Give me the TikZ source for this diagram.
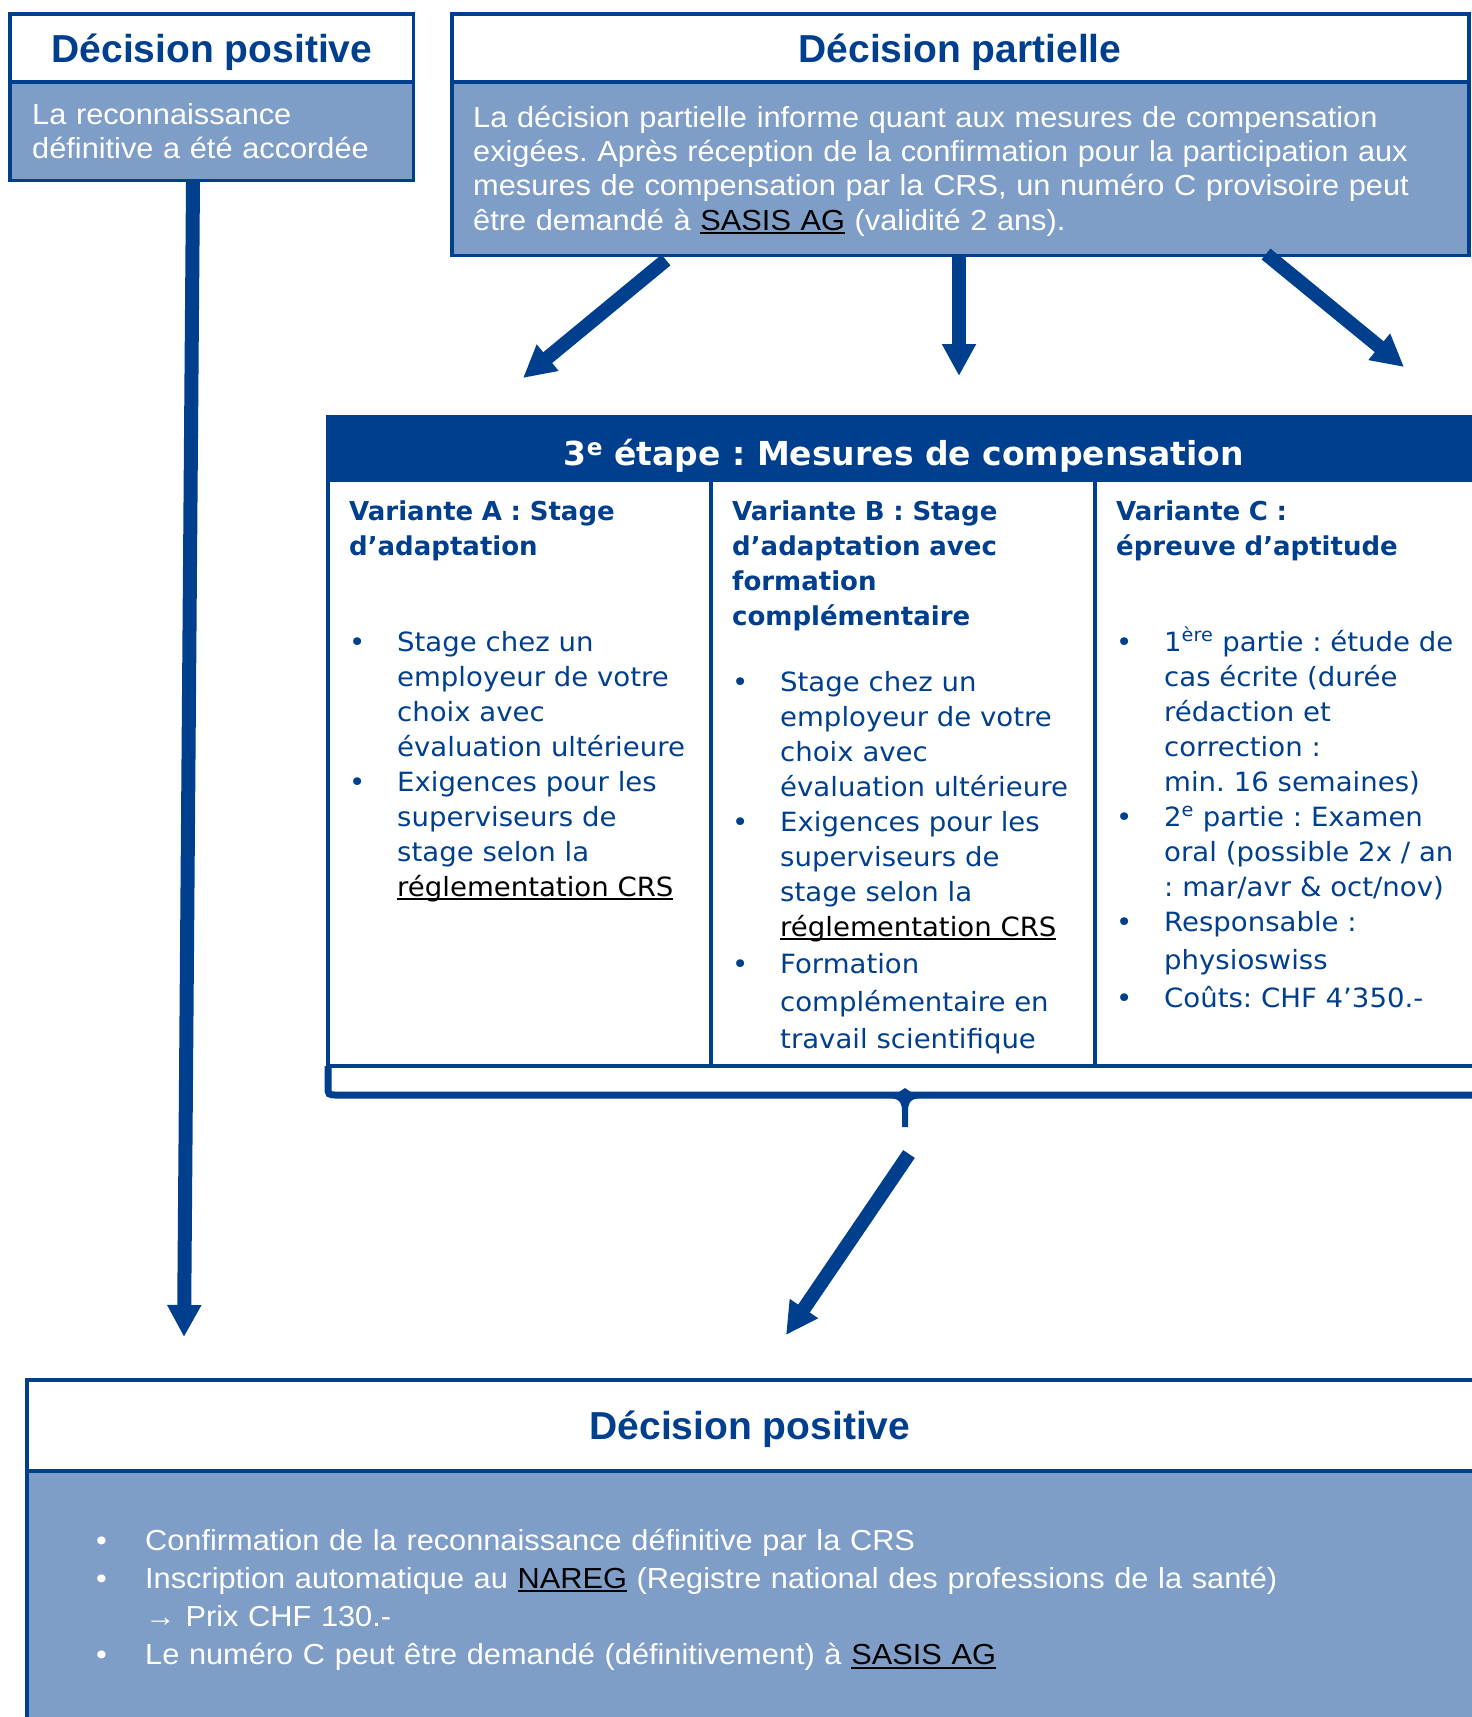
\documentclass[tikz,border=0pt]{standalone}
\usepackage{fontspec}
\setmainfont{Liberation Sans}
\newfontfamily\bodysans[FakeStretch=1.06]{Liberation Sans}
\newfontfamily\widesans{DejaVu Sans}
\newfontfamily\widelist[FakeStretch=1.04]{DejaVu Sans}
\usetikzlibrary{arrows.meta}
\frenchspacing

\definecolor{crsblue}{RGB}{0,63,142}
\definecolor{crslight}{RGB}{127,158,199}

% underlined link, in black
\newcommand\lnk[1]{{\color{black}\setbox0\hbox{#1}\rlap{\rule[-4pt]{\wd0}{2pt}}\box0}}
\newcommand\bul[1][48pt]{\makebox[#1][l]{•}}
\newcommand\ind[1][48pt]{\hspace*{#1}}

\begin{document}
\begin{tikzpicture}[x=1pt, y=-1pt,
    frame/.style={draw=crsblue, line width=3.5pt, inner sep=0pt,
                  outer sep=0pt, anchor=north west},
    hdr/.style={font=\fontsize{39}{44}\selectfont\bfseries, text=crsblue,
                inner sep=0pt, anchor=base},
    txt/.style={font=\bodysans\fontsize{29}{34.4}\selectfont, text=white,
                text width=1300pt, align=left, inner sep=0pt, anchor=base west},
    vtitle/.style={font=\widesans\fontsize{26}{35}\selectfont\bfseries,
                   text=crsblue, text width=360pt, align=left,
                   inner sep=0pt, anchor=base west},
    vlist/.style={font=\widelist\fontsize{26.5}{35}\selectfont,
                  text=crsblue, text width=360pt, align=left,
                  inner sep=0pt, anchor=base west},
    bigarrow/.style={draw=crsblue, line width=14pt,
                     -{Triangle[length=32pt,width=32pt]}}]
  \useasboundingbox (0,0) rectangle (1472,1717);
  \clip (0,0) rectangle (1472,1717);

  % top left: positive decision
  \node[frame, fill=white, minimum width=403.5pt, minimum height=68pt]
    (posHead) at (10,14) {};
  \node[frame, fill=crslight, minimum width=403.5pt, minimum height=98.5pt]
    (posBody) at (10,82) {};
  \node[hdr] (posTitle) at (212,62) {Décision positive};
  \node[txt] (posText) at (32,124) {La reconnaissance\\définitive a été accordée};

  % top right: partial decision
  \node[frame, fill=white, minimum width=1017pt, minimum height=68pt]
    (partHead) at (452,14) {};
  \node[frame, fill=crslight, minimum width=1017pt, minimum height=173.5pt]
    (partBody) at (452,82) {};
  \node[hdr] (partTitle) at (960,62) {Décision partielle};
  \node[txt] (partText) at (473,127) {La décision partielle informe quant aux mesures de compensation\\
    exigées. Après réception de la confirmation pour la participation aux\\
    mesures de compensation par la CRS, un numéro C provisoire peut\\
    être demandé à \lnk{SASIS AG} (validité 2 ans).};

  % step 3
  \node[frame, fill=crsblue, minimum width=1152pt, minimum height=63pt]
    (stepHead) at (328,417) {};
  \foreach \n/\x/\w in {colA/328/383, colB/711/384, colC/1095/385}
    \node[frame, fill=white, minimum width=\w pt, minimum height=586pt]
      (\n) at (\x,480) {};
  \node[font=\widesans\fontsize{33}{40}\selectfont\bfseries, text=white,
        inner sep=0pt, anchor=base] (stepTitle) at (904,465)
    {3\textsuperscript{e} étape : Mesures de compensation};

  \node[vtitle] (titA) at (349,520) {Variante A : Stage\\d’adaptation};
  \node[vtitle] (titB) at (732,520) {Variante B : Stage\\d’adaptation avec\\formation\\complémentaire};
  \node[vtitle] (titC) at (1116,520) {Variante C :\\épreuve d’aptitude};

  \node[vlist] (listA) at (349,651) {\bul Stage chez un\\ \ind employeur de votre\\
    \ind choix avec\\ \ind évaluation ultérieure\\ \bul Exigences pour les\\
    \ind superviseurs de\\ \ind stage selon la\\ \ind \lnk{réglementation CRS}};
  \node[vlist] (listB) at (732,691) {\bul Stage chez un\\ \ind employeur de votre\\
    \ind choix avec\\ \ind évaluation ultérieure\\ \bul Exigences pour les\\
    \ind superviseurs de\\ \ind stage selon la\\ \ind \lnk{réglementation CRS}\\[2.5pt]
    \bul Formation\\[2.5pt] \ind complémentaire en\\[2.5pt] \ind travail scientifique};
  \node[vlist] (listC) at (1116,651) {\bul 1\textsuperscript{ère} partie : étude de\\
    \ind cas écrite (durée\\ \ind rédaction et\\ \ind correction :\\
    \ind min. 16 semaines)\\ \bul 2\textsuperscript{e} partie : Examen\\
    \ind oral (possible 2x / an\\ \ind : mar/avr \& oct/nov)\\ \bul Responsable :\\[3pt]
    \ind physioswiss\\[3pt] \bul Coûts: CHF 4’350.-};

  % brace under the three variants
  \draw[crsblue, line width=7pt] (328,1066) -- (328,1086)
    .. controls (328,1095) .. (338,1095) -- (1490,1095);
  \fill[crsblue] (890,1098) .. controls (901,1099) and (902,1104) .. (902,1112)
    -- (902,1127) -- (908,1127) -- (908,1112)
    .. controls (908,1104) and (909,1099) .. (920,1098) -- cycle;
  \fill[crsblue] (899,1092) -- (905,1088) -- (911,1092) -- cycle;

  % bottom: positive decision
  \node[frame, fill=white, minimum width=1448pt, minimum height=91pt]
    (finHead) at (27,1380) {};
  \node[frame, fill=crslight, minimum width=1448pt, minimum height=270pt]
    (finBody) at (27,1471) {};
  \node[hdr] (finTitle) at (750,1439) {Décision positive};
  \node[txt, font=\bodysans\fontsize{29}{38.3}\selectfont] (finText) at (96,1550)
    {\bul[49pt]Confirmation de la reconnaissance définitive par la CRS\\
     \bul[49pt]Inscription automatique au \lnk{NAREG} (Registre national des professions de la santé)\\
     \ind[49pt]→ Prix CHF 130.-\\
     \bul[49pt]Le numéro C peut être demandé (définitivement) à \lnk{SASIS AG}};

  % arrows
  \coordinate (pL) at (193,181);  \coordinate (tL) at (184,1337);
  \coordinate (pA) at (666,260);  \coordinate (tA) at (523,378);
  \coordinate (pM) at (959,256);  \coordinate (tM) at (959,376);
  \coordinate (pR) at (1266,254); \coordinate (tR) at (1404,367);
  \coordinate (pB) at (909,1154); \coordinate (tB) at (786,1335);
  \foreach \s/\t in {pL/tL, pA/tA, pM/tM, pR/tR, pB/tB}
    \draw[bigarrow] (\s) -- (\t);
\end{tikzpicture}
\end{document}
